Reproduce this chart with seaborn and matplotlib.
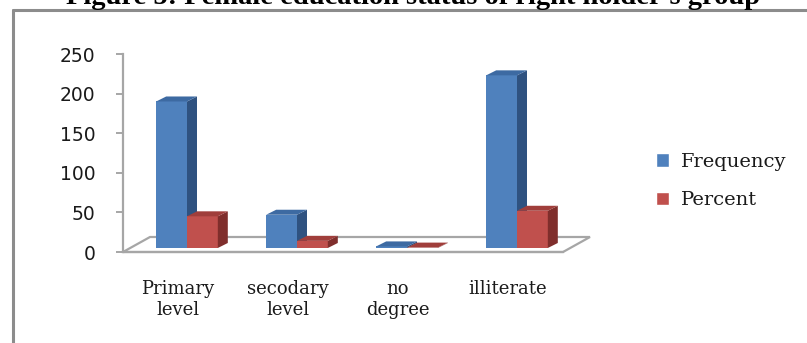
import matplotlib
matplotlib.use("Agg")
import matplotlib.pyplot as plt
from matplotlib.patches import Polygon
from matplotlib.lines import Line2D
from matplotlib.transforms import offset_copy
import numpy as np
import pandas as pd
import seaborn as sns

# Education status of female right holders
categories = ["Primary\nlevel", "secodary\nlevel", "no\ndegree", "illiterate"]
series = ["Frequency", "Percent"]
frequency = [185, 42, 2, 218]
percent = [40, 9, 0.5, 47]
y_ticks = [0, 50, 100, 150, 200, 250]

front_colors = {"Frequency": "#4F81BD", "Percent": "#C0504D"}
side_colors = {"Frequency": "#2F5280", "Percent": "#7F2E2C"}
top_colors = {"Frequency": "#3D6AA2", "Percent": "#A03E3B"}

df = pd.DataFrame({
    "category": categories * 2,
    "series": [series[0]] * len(categories) + [series[1]] * len(categories),
    "value": frequency + percent,
})

W, H, DPI = 807, 343, 100
sns.set_theme(style="white")
plt.rcParams["font.family"] = ["DejaVu Sans"]

fig = plt.figure(figsize=(W / DPI, H / DPI), dpi=DPI)
fig.patch.set_facecolor("white")

# axes box in pixels: left 123, right 563, y-axis from 252 (0) up to 54 (250)
ax = fig.add_axes([123 / W, (H - 252) / H, 440 / W, 198 / H])
ax.set_facecolor("none")

sns.barplot(data=df, x="category", y="value", hue="series", order=categories,
            hue_order=series, palette=front_colors, width=0.56, saturation=1,
            dodge=True, ax=ax, legend=True)

ax.set_xlim(-0.5, len(categories) - 0.5)
ax.set_ylim(0, 250)
ax.set_xlabel("")
ax.set_ylabel("")

fig.canvas.draw()
# pixel size of one data unit along each axis
p0 = ax.transData.transform((0, 0))
p1 = ax.transData.transform((1, 1))
px_x = p1[0] - p0[0]
px_y = p1[1] - p0[1]

# bars stand slightly behind the front edge of the floor
shift_x, shift_y = 9, 4
depth_x, depth_y = 10, 5
dx = depth_x / px_x
dy = depth_y / px_y

for s_idx, (name, container) in enumerate(zip(series, ax.containers)):
    z = 2 + s_idx
    trans = offset_copy(ax.transData, fig=fig, x=shift_x, y=shift_y, units="dots")
    for bar in container:
        bar.set_transform(trans)
        bar.set_zorder(z)
        bar.set_edgecolor("none")
        x, w, h = bar.get_x(), bar.get_width(), bar.get_height()
        side = Polygon([(x + w, 0), (x + w + dx, dy), (x + w + dx, h + dy), (x + w, h)],
                       closed=True, facecolor=side_colors[name], edgecolor="none",
                       transform=trans, zorder=z)
        top = Polygon([(x, h), (x + dx, h + dy), (x + w + dx, h + dy), (x + w, h)],
                      closed=True, facecolor=top_colors[name], edgecolor="none",
                      transform=trans, zorder=z)
        ax.add_patch(side)
        ax.add_patch(top)

# floor of the 3D plot
grey = "#A6A6A6"
floor_dx = 27 / px_x
floor_dy = 15 / px_y
x_lo, x_hi = -0.5, len(categories) - 0.5
floor = Polygon([(x_lo, 0), (x_lo + floor_dx, floor_dy), (x_hi + floor_dx, floor_dy), (x_hi, 0)],
                closed=True, facecolor="none", edgecolor=grey, linewidth=1.6,
                zorder=1, clip_on=False)
ax.add_patch(floor)

for side_name in ["top", "right"]:
    ax.spines[side_name].set_visible(False)
for side_name in ["left", "bottom"]:
    ax.spines[side_name].set_color(grey)
    ax.spines[side_name].set_linewidth(1.6)

ax.set_yticks(y_ticks)
ax.set_yticklabels([str(v) for v in y_ticks])
ax.tick_params(axis="y", which="major", direction="out", length=5, width=1.4,
               color=grey, pad=15, labelsize=13.5, labelcolor="#1a1a1a")

ax.set_xticks(range(len(categories)))
ax.set_xticklabels(categories, fontfamily="DejaVu Serif", linespacing=1.25)
ax.set_xticks(np.arange(-0.5, len(categories), 1.0), minor=True)
ax.tick_params(axis="x", which="major", length=0, pad=20, labelsize=13,
               labelcolor="#1a1a1a")
ax.tick_params(axis="x", which="minor", direction="out", length=5, width=1.4, color=grey)
ax.tick_params(left=True, bottom=True)

sns.move_legend(ax, loc="center left", bbox_to_anchor=(638 / W, 1 - 181 / H),
                bbox_transform=fig.transFigure, frameon=False, title=None,
                handlelength=0.7, handleheight=0.7, handletextpad=0.6,
                labelspacing=1.05, prop={"family": "DejaVu Serif", "size": 14})
for txt in ax.get_legend().get_texts():
    txt.set_color("#1a1a1a")

# surrounding frame and the chart caption above it
fig.add_artist(Line2D([13 / W, 1.0], [1 - 10 / H, 1 - 10 / H], transform=fig.transFigure,
                      color="#8C8C8C", linewidth=2.2))
fig.add_artist(Line2D([13 / W, 13 / W], [0.0, 1 - 10 / H], transform=fig.transFigure,
                      color="#8C8C8C", linewidth=2.2))
fig.text(413 / W, 1 - 4 / H, "Figure 5: Female education status of right holder's group",
         ha="center", va="baseline", fontsize=20.5, fontweight="bold",
         fontfamily="Liberation Serif", color="black")

fig.savefig("out.png", dpi=DPI, facecolor="white")
